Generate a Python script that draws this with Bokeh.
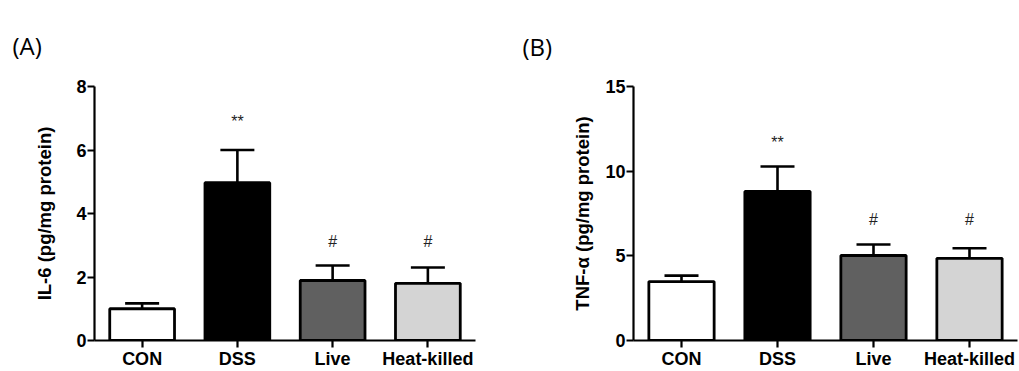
from bokeh.plotting import figure
from bokeh.models import (ColumnDataSource, FactorRange, Range1d, FixedTicker,
                          Whisker, TeeHead)
from bokeh.layouts import row
from bokeh.embed import file_html
from bokeh.resources import INLINE
from bokeh.core.properties import value

groups = ["CON", "DSS", "Live", "Heat-killed"]
colors = ["#ffffff", "#000000", "#606060", "#d4d4d4"]

il6_mean = [1.0, 4.97, 1.89, 1.80]
il6_upper = [1.17, 6.0, 2.36, 2.30]
il6_marks = ["", "**", "#", "#"]
il6_mark_y = [0, 6.9, 3.12, 3.12]

tnf_mean = [3.48, 8.8, 5.02, 4.85]
tnf_upper = [3.83, 10.28, 5.67, 5.45]
tnf_marks = ["", "**", "#", "#"]
tnf_mark_y = [0, 11.7, 7.15, 7.15]

FONT = "Liberation Sans"


def make_panel(mean, upper, marks, mark_y, ymax, ticks, ylabel, panel_label,
               border_left, border_right, border_top, frame_w, label_dx,
               label_standoff, title_standoff):
    src = ColumnDataSource(dict(g=groups, m=mean, u=upper, c=colors))
    p = figure(x_range=FactorRange(factors=groups, range_padding=0),
               y_range=Range1d(0, ymax),
               frame_width=frame_w, frame_height=254,
               min_border_left=border_left, min_border_right=border_right,
               min_border_top=border_top, min_border_bottom=26,
               output_backend="svg", toolbar_location=None,
               title=panel_label)
    p.outline_line_color = None
    p.xgrid.grid_line_color = None
    p.ygrid.grid_line_color = None
    p.background_fill_color = "white"

    p.title.align = "left"
    p.title.offset = label_dx
    p.title.text_font = "Open Sans"
    p.title.text_font_style = "normal"
    p.title.text_font_size = "24px"
    p.title.text_color = "black"
    p.title.standoff = title_standoff

    whisk = Whisker(base="g", lower="m", upper="u", source=src,
                    dimension="height", line_width=2.6, line_color="black",
                    upper_head=TeeHead(size=34, line_width=2.6, line_color="black"),
                    lower_head=None, level="underlay")
    p.add_layout(whisk)

    p.vbar(x="g", top="m", width=0.68, source=src, fill_color="c",
           line_color="black", line_width=2.8)

    msrc = ColumnDataSource(dict(g=groups, t=marks, y=mark_y))
    p.text(x="g", y="y", text="t", source=msrc, text_align="center",
           text_baseline="middle", text_font=value(FONT),
           text_font_size="16px", text_color="#222222")

    ya = p.yaxis[0]
    ya.ticker = FixedTicker(ticks=ticks)
    ya.minor_tick_line_color = None
    ya.major_tick_out = 7
    ya.major_tick_in = 0
    ya.axis_line_width = 2.2
    ya.major_tick_line_width = 2.2
    ya.major_label_text_font = FONT
    ya.major_label_text_font_style = "bold"
    ya.major_label_text_font_size = "18px"
    ya.major_label_text_color = "black"
    ya.major_label_standoff = 1
    ya.axis_label = ylabel
    ya.axis_label_text_font = FONT
    ya.axis_label_text_font_style = "bold"
    ya.axis_label_text_font_size = "18.5px"
    ya.axis_label_text_color = "black"
    ya.axis_label_standoff = label_standoff

    xa = p.xaxis[0]
    xa.major_tick_out = 7
    xa.major_tick_in = 0
    xa.axis_line_width = 2.2
    xa.major_tick_line_width = 2.2
    xa.major_label_text_font = FONT
    xa.major_label_text_font_style = "bold"
    xa.major_label_text_font_size = "18px"
    xa.major_label_text_color = "black"
    xa.major_label_standoff = 1
    return p


pA = make_panel(il6_mean, il6_upper, il6_marks, il6_mark_y, 8, [0, 2, 4, 6, 8],
                "IL-6 (pg/mg protein)", "(A)", 94, 38, 86, 381, -82, 18, 50)
pB = make_panel(tnf_mean, tnf_upper, tnf_marks, tnf_mark_y, 15, [0, 5, 10, 15],
                "TNF-α (pg/mg protein)", "(B)", 120, 1, 84, 384, -111, 9, 48)

layout = row(pA, pB)
open("out.html", "w").write(file_html(layout, INLINE))
